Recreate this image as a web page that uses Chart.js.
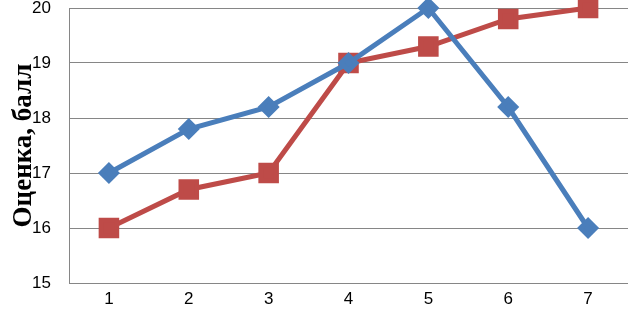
<!DOCTYPE html>
<html>
<head>
<meta charset="utf-8">
<script src="https://cdn.jsdelivr.net/npm/chart.js@4"></script>
<style>
  body { margin: 0; background: #fff; }
  canvas { display: block; }
</style>
</head>
<body>
<canvas id="chart" width="628" height="316"></canvas>
<script>
const categories = ['1', '2', '3', '4', '5', '6', '7'];
const blueValues = [17, 17.8, 18.2, 19, 20, 18.2, 16];
const redValues = [16, 16.7, 17, 19, 19.3, 19.8, 20];
const yTitle = 'Оценка, балл';

const gridColor = '#868686';
const tickFont = { family: 'Liberation Sans', size: 17 };

const chartCanvas = document.querySelector('#chart');

let chart = new Chart(chartCanvas, {
  type: 'line',
  data: {
    labels: categories,
    datasets: [{
      data: blueValues,
      borderColor: '#4A7EBB',
      backgroundColor: '#4A7EBB',
      borderWidth: 5,
      pointStyle: 'rectRot',
      pointRadius: 7.5,
      pointHoverRadius: 7.5,
      tension: 0,
      clip: false
    }, {
      data: redValues,
      borderColor: '#BE4B48',
      backgroundColor: '#BE4B48',
      borderWidth: 5,
      pointStyle: 'rect',
      pointRadius: 11,
      pointHoverRadius: 11,
      tension: 0,
      clip: false
    }]
  },
  options: {
    responsive: false,
    animation: false,
    layout: { autoPadding: false, padding: { top: 8, right: 0, left: 0, bottom: 0 } },
    plugins: { legend: { display: false }, tooltip: { enabled: false } },
    scales: {
      x: {
        offset: true,
        grid: { display: false, drawTicks: false },
        border: { display: true, color: gridColor, width: 1 },
        ticks: { color: '#000', font: tickFont, padding: 6 },
        afterFit: scale => {
          scale.height = 33;
          scale.paddingLeft = 0;
          scale.paddingRight = 0;
        }
      },
      y: {
        min: 15,
        max: 20,
        ticks: { stepSize: 1, color: '#000', font: tickFont, padding: 18 },
        grid: { color: gridColor, drawTicks: false },
        border: { display: true, color: gridColor, width: 1 },
        title: {
          display: true,
          text: yTitle,
          color: '#000',
          font: { family: 'Liberation Serif', size: 27, weight: 'bold' },
          padding: { top: 8, bottom: 0 }
        },
        afterFit: scale => {
          scale.width = 69;
          scale.paddingTop = 0;
          scale.paddingBottom = 0;
        }
      }
    }
  }
});
</script>
</body>
</html>
